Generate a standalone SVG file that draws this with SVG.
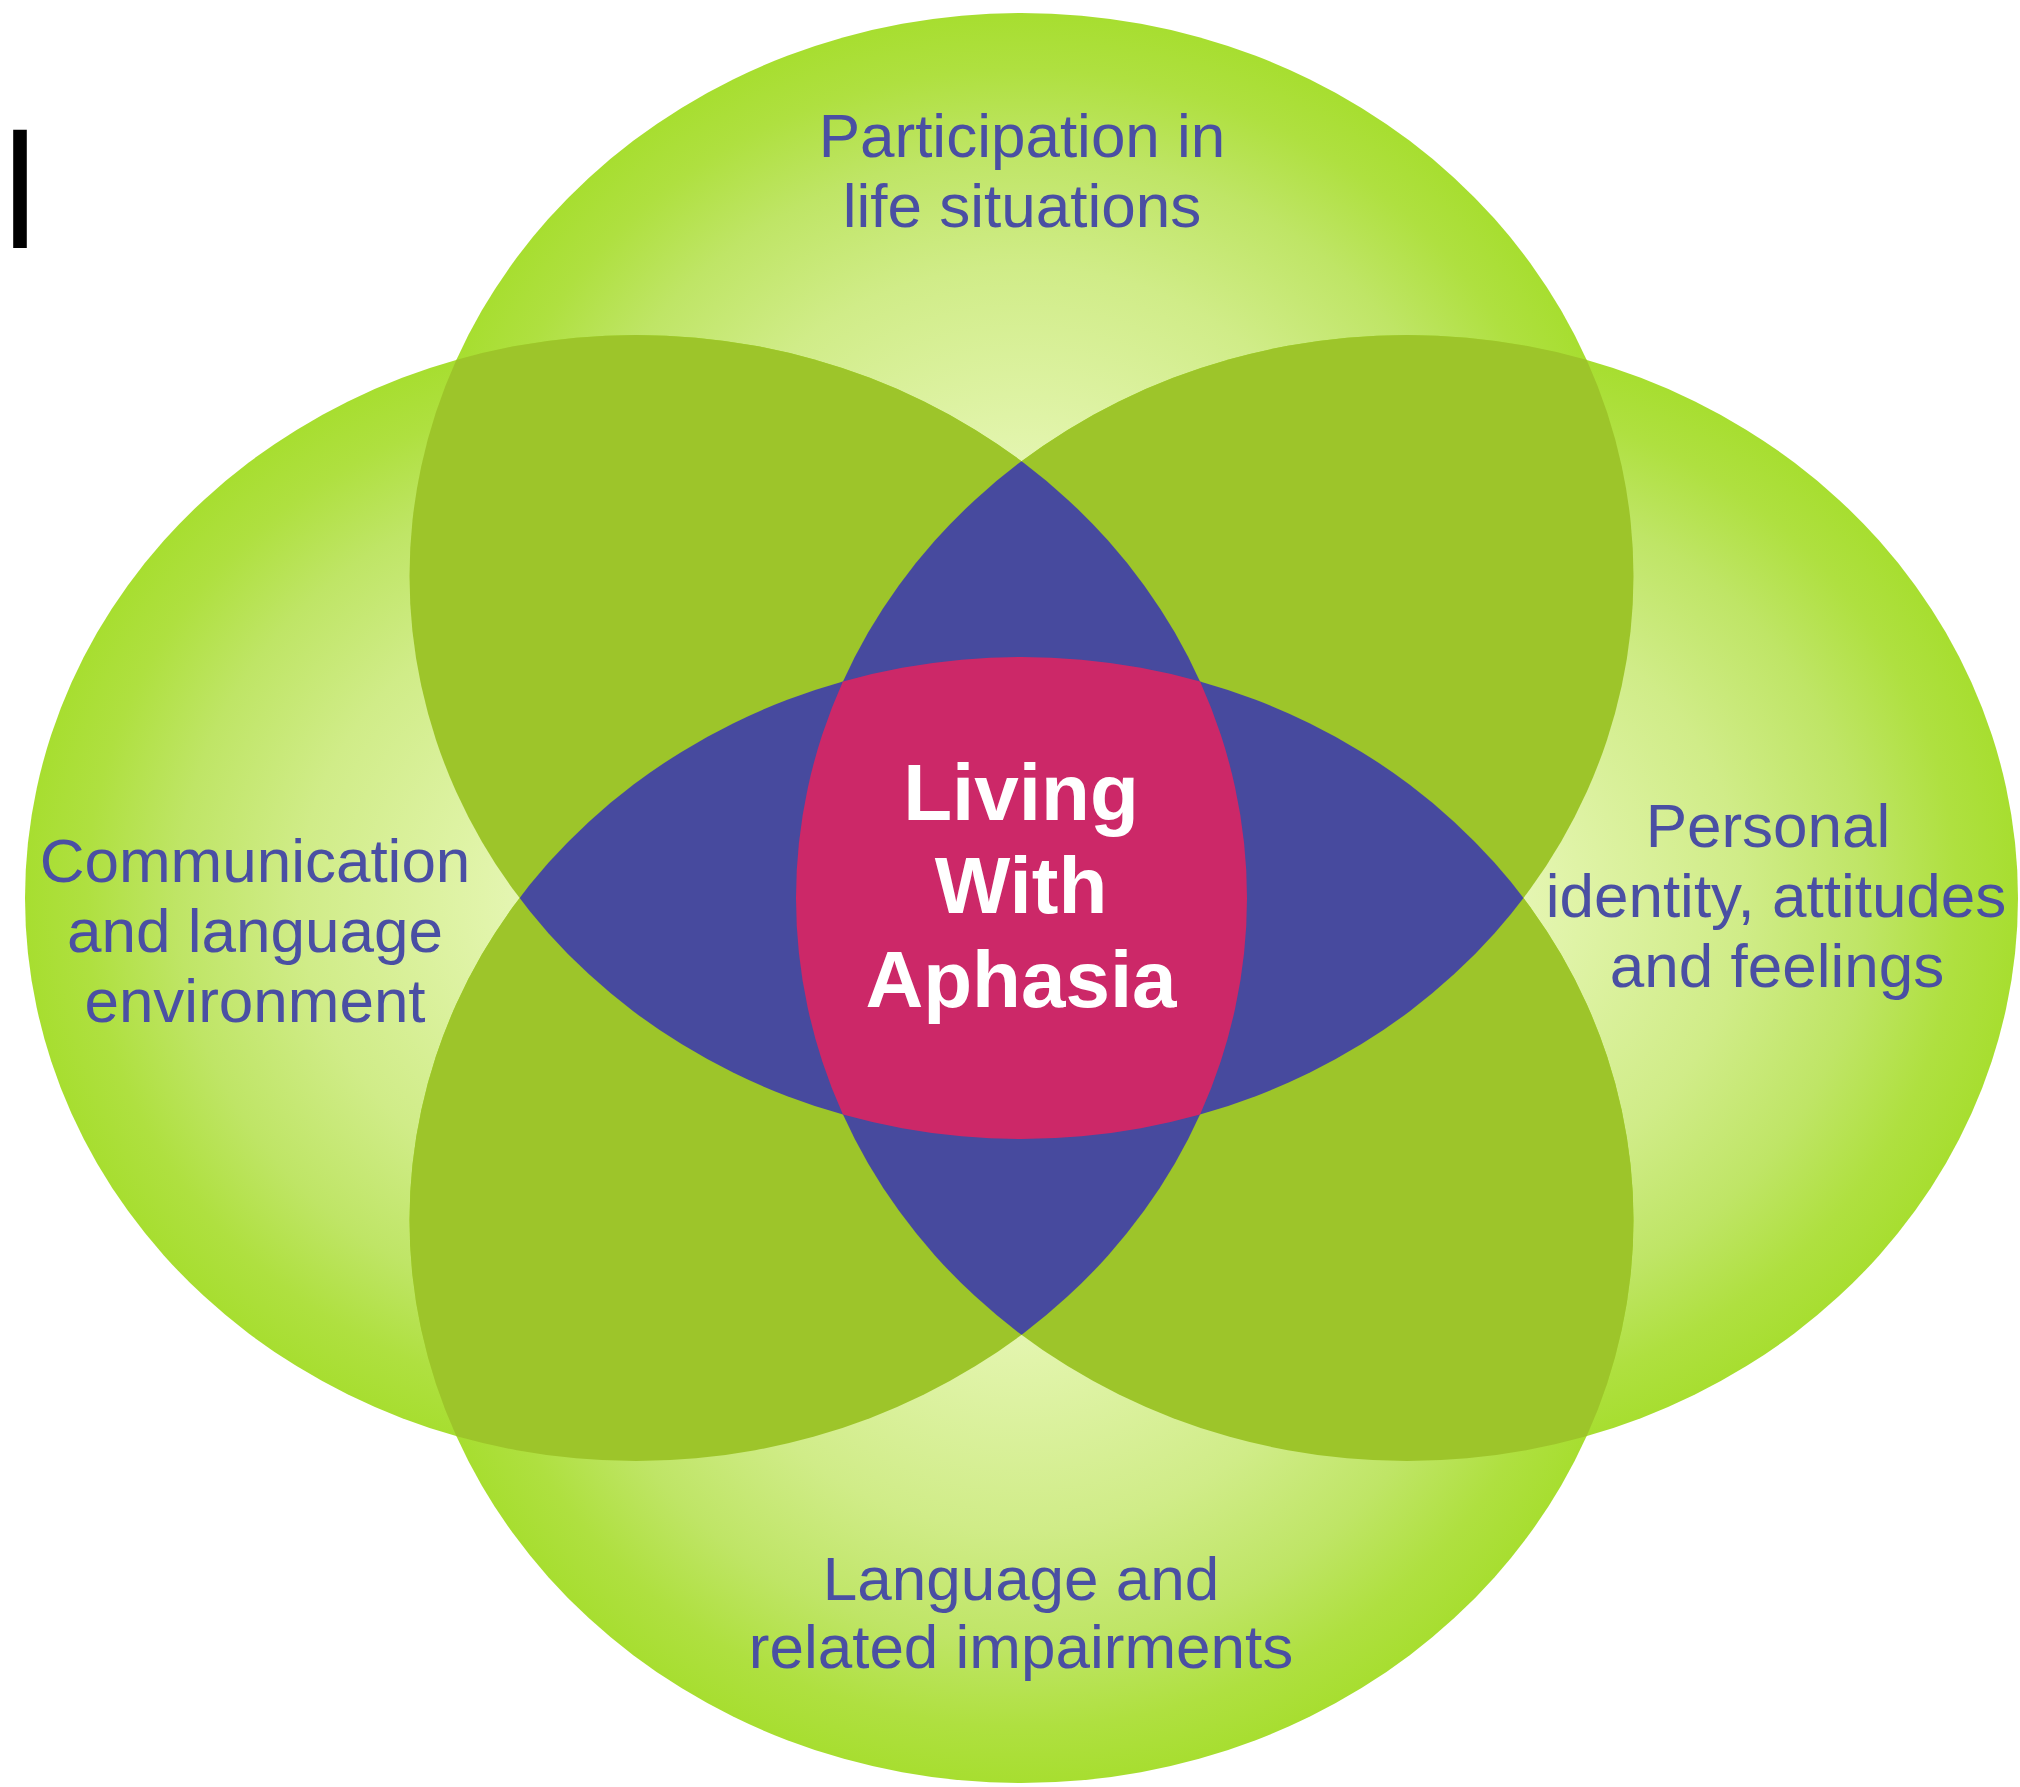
<svg xmlns="http://www.w3.org/2000/svg" width="2020" height="1787" viewBox="0 0 2020 1787">
  <defs>
    <radialGradient id="gGreen" cx="0.5" cy="0.5" r="0.5">
      <stop offset="0" stop-color="#eef9cc"/>
      <stop offset="0.25" stop-color="#e1f4aa"/>
      <stop offset="0.55" stop-color="#d0ec88"/>
      <stop offset="0.75" stop-color="#bfe566"/>
      <stop offset="0.9" stop-color="#afe040"/>
      <stop offset="1" stop-color="#a7de30"/>
    </radialGradient>
    <clipPath id="cT"><ellipse cx="1021.5" cy="576" rx="612" ry="563"/></clipPath>
    <clipPath id="cB"><ellipse cx="1021.5" cy="1220" rx="612" ry="563"/></clipPath>
    <clipPath id="cL"><ellipse cx="636" cy="898" rx="611" ry="563"/></clipPath>
    <clipPath id="cR"><ellipse cx="1407" cy="898" rx="611" ry="563"/></clipPath>
    <style>
      .outer { fill: url(#gGreen); }
      .ov2 { fill: #9dc52a; }
      .ov3 { fill: #474a9e; }
      .ov4 { fill: #cc2868; }
      .lbl { font-family: "Liberation Sans", Arial, sans-serif; font-size: 62px; fill: #4a4fa3; text-anchor: middle; }
      .ctr { font-family: "Liberation Sans", Arial, sans-serif; font-size: 80px; font-weight: bold; fill: #ffffff; text-anchor: middle; }
    </style>
  </defs>
  <rect width="2020" height="1787" fill="#ffffff"/>

  <text x="0" y="248" font-family="'Noto Sans', 'Open Sans', sans-serif" font-size="155" fill="#000000">l</text>

  <g id="node-participation">
    <ellipse class="outer" cx="1021.5" cy="576" rx="612" ry="563"/>
  </g>
  <g id="node-communication">
    <ellipse class="outer" cx="636" cy="898" rx="611" ry="563"/>
  </g>
  <g id="node-personal">
    <ellipse class="outer" cx="1407" cy="898" rx="611" ry="563"/>
  </g>
  <g id="node-language">
    <ellipse class="outer" cx="1021.5" cy="1220" rx="612" ry="563"/>
  </g>

  <g id="overlaps">
    <ellipse class="ov2" cx="1021.5" cy="576" rx="612" ry="563" clip-path="url(#cL)"/>
    <ellipse class="ov2" cx="1021.5" cy="576" rx="612" ry="563" clip-path="url(#cR)"/>
    <ellipse class="ov2" cx="1021.5" cy="1220" rx="612" ry="563" clip-path="url(#cL)"/>
    <ellipse class="ov2" cx="1021.5" cy="1220" rx="612" ry="563" clip-path="url(#cR)"/>
    <ellipse class="ov3" cx="636" cy="898" rx="611" ry="563" clip-path="url(#cR)"/>
    <ellipse class="ov3" cx="1021.5" cy="576" rx="612" ry="563" clip-path="url(#cB)"/>
  </g>

  <g id="node-center">
    <g clip-path="url(#cL)">
      <g clip-path="url(#cR)">
        <ellipse class="ov4" cx="1021.5" cy="576" rx="612" ry="563" clip-path="url(#cB)"/>
      </g>
    </g>
    <text class="ctr" x="1021" y="820">Living</text>
    <text class="ctr" x="1021" y="913">With</text>
    <text class="ctr" x="1021" y="1007">Aphasia</text>
  </g>

  <g id="labels">
    <text class="lbl" x="1022" y="157">Participation in</text>
    <text class="lbl" x="1022" y="227">life situations</text>
    <text class="lbl" x="255" y="882">Communication</text>
    <text class="lbl" x="255" y="952">and language</text>
    <text class="lbl" x="255" y="1022">environment</text>
    <text class="lbl" x="1768" y="847">Personal</text>
    <text class="lbl" x="1776" y="917">identity, attitudes</text>
    <text class="lbl" x="1777" y="987">and feelings</text>
    <text class="lbl" x="1021" y="1600">Language and</text>
    <text class="lbl" x="1021" y="1668">related impairments</text>
  </g>
</svg>
